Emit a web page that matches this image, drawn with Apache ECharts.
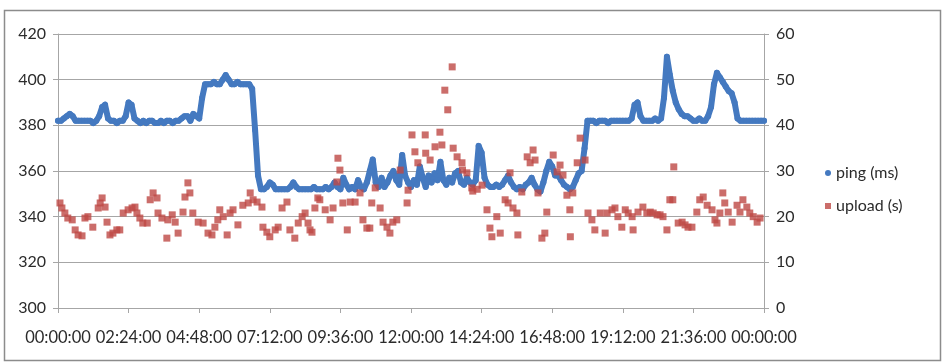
<!DOCTYPE html>
<html>
<head>
<meta charset="utf-8">
<script src="https://cdn.jsdelivr.net/npm/echarts@6/dist/echarts.min.js"></script>
<style>
html,body{margin:0;padding:0;background:#fff;}
#chart{width:947px;height:362px;}
</style>
</head>
<body>
<div id="chart"></div>
<script>
// ---- data ----
const xTickLabels = ['00:00:00','02:24:00','04:48:00','07:12:00','09:36:00','12:00:00','14:24:00','16:48:00','19:12:00','21:36:00','00:00:00'];
const leftTicks = [300, 320, 340, 360, 380, 400, 420];
const rightTicks = [0, 10, 20, 30, 40, 50, 60];

// ping (ms): one reading every 6 minutes starting at 00:00
const pingStartMinute = 0;
const pingStepMinutes = 6;
const pingValues = [
  382,382,383,384,385,384,382,382,382,382,
  382,382,381,382,384,388,389,383,382,382,
  381,382,382,384,390,389,383,382,381,382,
  381,382,382,381,381,382,381,382,382,381,
  382,382,383,384,384,382,385,384,383,392,
  398,398,398,399,398,398,400,402,400,398,
  398,399,398,398,398,398,396,378,358,352,
  352,353,355,354,352,352,352,352,352,353,
  355,353,352,352,352,352,352,353,352,352,
  352,353,352,353,355,353,352,357,354,352,
  353,352,356,353,352,355,360,365,355,353,
  357,353,355,358,360,356,354,367,358,355,
  353,356,354,362,357,353,358,355,359,356,
  364,356,354,357,355,359,360,355,354,357,
  355,354,356,371,368,357,354,353,353,354,
  353,354,356,358,355,353,352,353,352,354,
  355,357,354,352,351,355,360,364,362,358,
  358,356,354,353,352,353,356,359,360,370,
  382,382,382,381,382,382,382,381,382,382,
  382,382,382,382,382,383,389,390,384,382,
  382,382,382,383,382,383,392,410,402,395,
  390,387,385,384,384,383,382,382,383,382,
  382,384,388,398,403,401,399,397,395,394,
  390,383,382,382,382,382,382,382,382,382,
  382
];

// upload (s): minute of day and value
const uploadMinutes = [
  4,8,14,20,29,35,41,49,55,61,71,82,86,90,96,100,106,112,120,126,
  133,143,151,157,161,167,173,182,188,194,202,204,212,222,224,233,239,245,255,259,
  265,269,275,286,296,306,314,320,326,330,337,345,351,357,367,377,388,392,398,406,
  416,418,426,432,443,449,457,467,473,483,490,498,504,510,514,518,524,530,534,545,
  555,561,569,571,575,581,590,596,606,616,622,630,636,640,647,657,663,671,677,683,
  691,698,712,714,722,728,734,749,750,759,769,779,783,789,795,804,806,814,824,825,
  834,844,846,855,865,875,881,885,895,902,912,918,922,928,936,938,946,957,963,969,
  973,979,987,993,997,1010,1018,1024,1030,1038,1044,1045,1050,1059,1065,1075,1081,1089,1095,1106,
  1116,1120,1130,1136,1142,1150,1157,1163,1171,1173,1183,1193,1201,1208,1214,1222,1228,1234,1242,1248,
  1254,1256,1265,1273,1279,1285,1293,1303,1309,1316,1324,1334,1340,1344,1350,1356,1360,1367,1375,1385,
  1391,1397,1405,1411,1418,1426,1432
];
const uploadValues = [
  23.0,21.9,20.8,19.7,19.3,17.1,16.0,15.8,19.7,20.0,17.7,21.9,23.0,24.1,22.1,18.8,16.0,16.4,17.1,17.1,
  20.8,21.5,21.9,22.1,20.8,19.7,18.6,18.6,23.7,25.2,24.1,20.8,19.7,15.3,19.3,20.4,18.8,16.4,21.0,24.3,
  27.4,25.2,20.8,18.8,18.6,16.4,16.0,17.7,19.3,21.5,20.0,16.0,20.8,21.5,18.2,22.5,23.0,25.2,23.7,23.2,
  22.1,17.7,16.6,15.6,17.1,17.7,21.9,23.2,17.1,15.3,18.6,20.0,20.8,18.6,17.1,16.6,21.9,24.1,23.7,21.5,
  19.3,21.9,27.6,32.8,30.2,23.0,17.1,23.2,23.2,25.2,19.3,17.5,17.5,23.0,26.3,21.9,18.8,17.7,16.4,18.8,
  19.3,30.2,23.0,25.8,37.9,34.2,31.8,37.9,33.9,32.4,35.3,38.5,35.7,47.7,43.4,52.8,35.0,33.1,31.8,30.2,
  29.6,26.3,25.6,26.0,26.9,21.5,17.5,15.6,20.0,16.4,23.7,23.0,29.6,21.9,20.8,16.0,25.4,33.1,31.8,34.6,
  32.4,25.2,15.3,16.4,21.0,33.5,29.8,31.3,29.1,24.7,21.5,15.6,25.2,31.8,37.2,32.4,20.8,19.3,17.1,20.8,
  16.4,20.8,21.5,21.9,20.0,17.7,21.5,20.8,20.0,17.1,21.0,22.1,20.8,21.0,20.8,20.4,20.4,20.0,17.1,23.7,
  23.7,30.9,18.6,18.8,18.2,17.7,17.7,21.0,23.7,24.3,22.5,21.5,19.3,18.6,20.8,25.2,23.0,21.0,18.8,22.5,
  21.0,23.7,22.1,20.8,20.0,18.8,19.7
];

const seriesNames = ['ping (ms)', 'upload (s)'];

// ---- build ----
const pingData = pingValues.map((v, i) => [pingStartMinute + i * pingStepMinutes, v]);
const uploadData = uploadMinutes.map((m, i) => [m, uploadValues[i]]);

const BLUE = '#4479C0';
const RED = '#BE4845';
const GRID = '#A6A6A6';
const TXT = '#2B2B2B';
const FONT = 'Lato';

const chart = echarts.init(document.getElementById('chart'), null, {renderer: 'canvas'});
chart.setOption({
  animation: false,
  backgroundColor: '#ffffff',
  textStyle: {fontFamily: FONT},
  graphic: [{
    type: 'rect', left: 2, top: 8, silent: true,
    shape: {width: 936, height: 350},
    style: {fill: 'none', stroke: '#8C8C8C', lineWidth: 1.5}
  }],
  grid: {left: 58, right: 183, top: 34, bottom: 54, containLabel: false},
  legend: {
    orient: 'vertical', left: 820, top: 160, itemGap: 17,
    itemWidth: 6, itemHeight: 6,
    textStyle: {fontFamily: FONT, fontSize: 16, color: TXT},
    data: [
      {name: seriesNames[0], icon: 'circle', itemStyle: {color: BLUE}},
      {name: seriesNames[1], icon: 'rect', itemStyle: {color: RED}}
    ]
  },
  xAxis: {
    type: 'value', min: 0, max: 1440, interval: 144,
    axisLine: {show: true, lineStyle: {color: GRID, width: 1}},
    axisTick: {show: true, length: 5, lineStyle: {color: GRID}},
    splitLine: {show: false},
    axisLabel: {
      margin: 21, color: TXT, fontSize: 16.5, fontFamily: FONT,
      formatter: v => xTickLabels[Math.round(v / 144)]
    }
  },
  yAxis: [{
    type: 'value', min: leftTicks[0], max: leftTicks[leftTicks.length - 1], interval: 20,
    position: 'left',
    axisLine: {show: true, lineStyle: {color: GRID}},
    axisTick: {show: true, length: 5, lineStyle: {color: GRID}},
    splitLine: {show: true, lineStyle: {color: GRID, width: 1}},
    axisLabel: {margin: 12, color: TXT, fontSize: 16, fontFamily: FONT}
  }, {
    type: 'value', min: rightTicks[0], max: rightTicks[rightTicks.length - 1], interval: 10,
    position: 'right',
    axisLine: {show: true, lineStyle: {color: GRID}},
    axisTick: {show: true, length: 5, lineStyle: {color: GRID}},
    splitLine: {show: false},
    axisLabel: {margin: 12, color: TXT, fontSize: 16, fontFamily: FONT}
  }],
  series: [{
    name: seriesNames[0], type: 'line', yAxisIndex: 0,
    data: pingData,
    symbol: 'circle', symbolSize: 6, showSymbol: true,
    lineStyle: {color: BLUE, width: 6, cap: 'round', join: 'round'},
    itemStyle: {color: BLUE},
    z: 2
  }, {
    name: seriesNames[1], type: 'scatter', yAxisIndex: 1,
    data: uploadData,
    symbol: 'rect', symbolSize: 7,
    itemStyle: {color: RED},
    z: 3
  }]
});
</script>
</body>
</html>
